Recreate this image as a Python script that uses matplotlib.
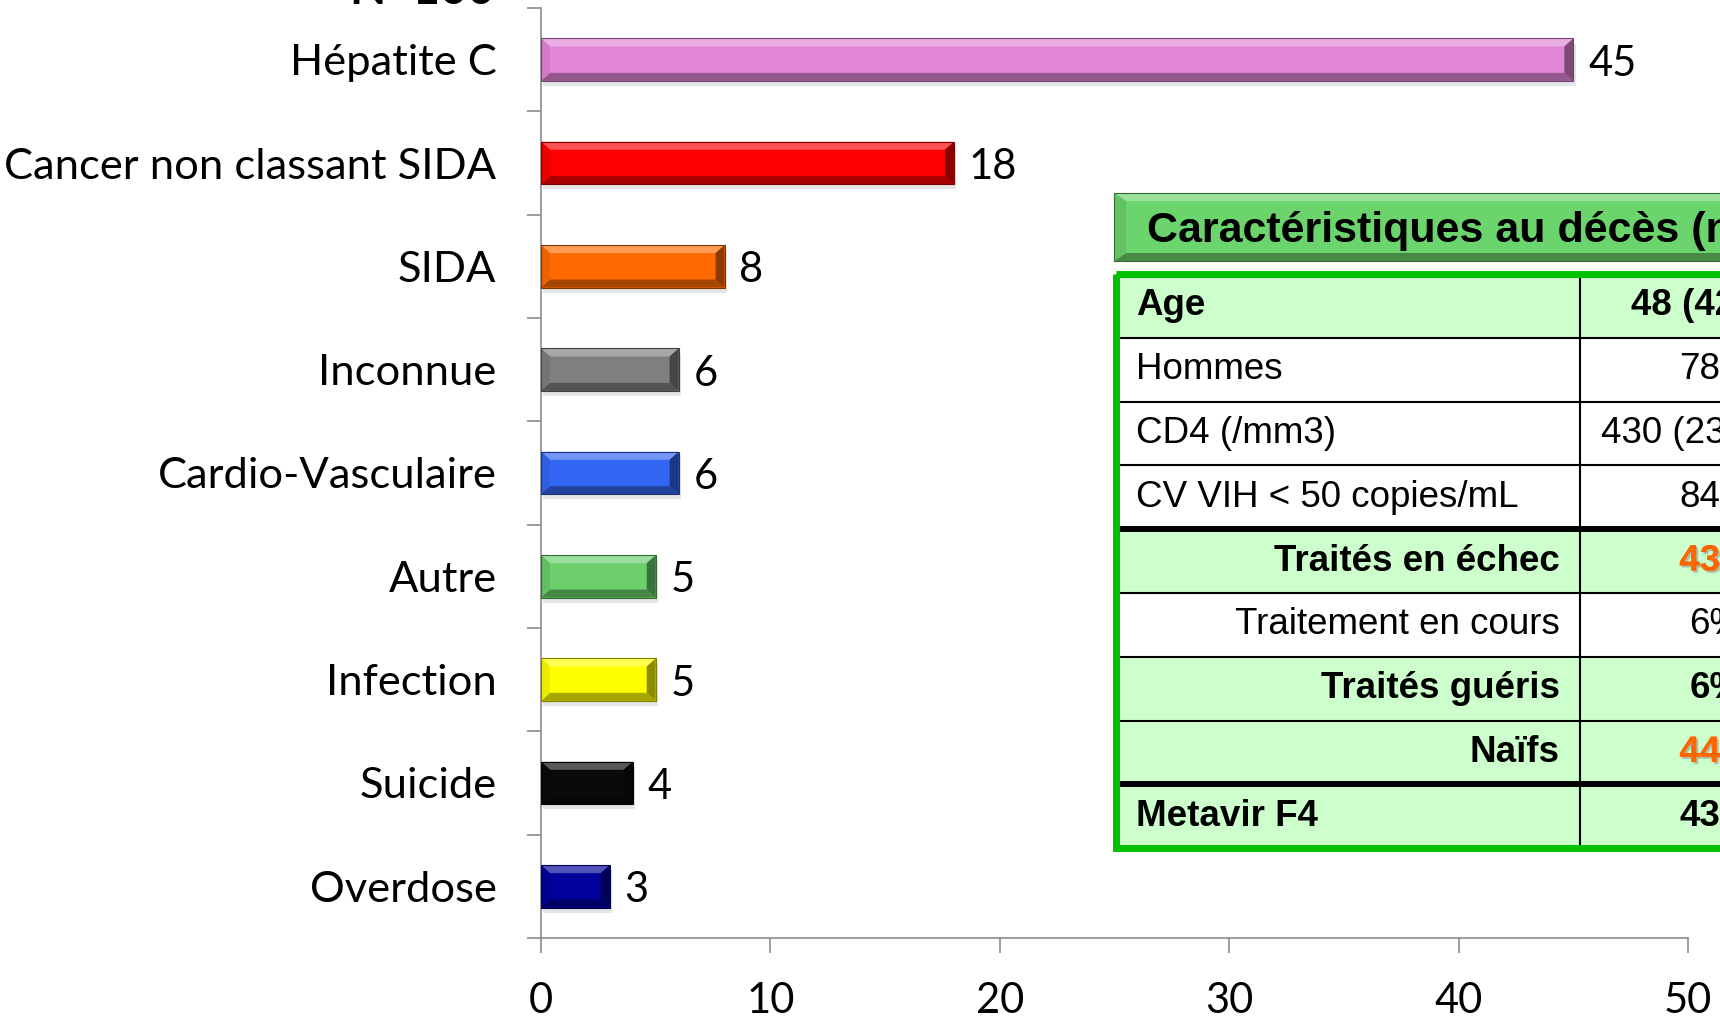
import numpy as np
import matplotlib
matplotlib.use('Agg')
import matplotlib.pyplot as plt
from matplotlib.patches import Rectangle, Polygon
from matplotlib import colors as mcolors
import matplotlib.patheffects as pe

# données du graphique
categories = ['Hépatite C', 'Cancer non classant SIDA', 'SIDA', 'Inconnue',
              'Cardio-Vasculaire', 'Autre', 'Infection', 'Suicide', 'Overdose']
deces = [45, 18, 8, 6, 6, 5, 5, 4, 3]
bar_colors = ['#E386D8', '#FF0000', '#FF6A00', '#7F7F7F', '#3366F2',
              '#6CCF6C', '#FFFF00', '#0A0A0A', '#00009A']
xticks = [0, 10, 20, 30, 40, 50]

# tableau "Caractéristiques au décès"
tab_titre = 'Caractéristiques au décès (n=100)'
tab_labels = ['Age', 'Hommes', 'CD4 (/mm3)', 'CV VIH < 50 copies/mL',
              'Traités en échec', 'Traitement en cours', 'Traités guéris',
              'Naïfs', 'Metavir F4']
tab_values = ['48 (42-54)', '78%', '430 (230-640)', '84%', '43%', '6%',
              '6%', '44%', '43%']
tab_bold = [True, False, False, False, True, False, True, True, True]
tab_fill = [True, False, False, False, True, False, True, True, True]
tab_right = [False, False, False, False, True, True, True, True, False]
tab_orange = [False, False, False, False, True, False, False, True, False]
tab_thick = [4, 8]   # lignes épaisses au-dessus de ces lignes

W, H = 1720, 1016
CAL = 'Lato'
ARIAL = 'Liberation Sans'
FS_TAB = 26.5


def mix(c, other, t):
    a = np.array(mcolors.to_rgb(c))
    b = np.array(mcolors.to_rgb(other))
    return tuple(a * (1 - t) + b * t)


def bevel(ax, x0, x1, yt, yb, color, bx, by, z=3):
    # yt = bord visuel haut, yb = bord visuel bas
    sy = 1 if yt > yb else -1
    ax.add_patch(Polygon([(x0, yb), (x1, yb), (x1, yt), (x0, yt)], closed=True,
                         fc=color, ec='none', zorder=z))
    ax.add_patch(Polygon([(x0, yt), (x1, yt), (x1 - bx, yt - sy * by), (x0 + bx, yt - sy * by)],
                         fc=mix(color, 'white', 0.32), ec='none', zorder=z + 0.1))
    ax.add_patch(Polygon([(x0, yb), (x1, yb), (x1 - bx, yb + sy * by), (x0 + bx, yb + sy * by)],
                         fc=mix(color, 'black', 0.35), ec='none', zorder=z + 0.1))
    ax.add_patch(Polygon([(x0, yb), (x0, yt), (x0 + bx, yt - sy * by), (x0 + bx, yb + sy * by)],
                         fc=mix(color, 'black', 0.08), ec='none', zorder=z + 0.1))
    ax.add_patch(Polygon([(x1, yb), (x1, yt), (x1 - bx, yt - sy * by), (x1 - bx, yb + sy * by)],
                         fc=mix(color, 'black', 0.45), ec='none', zorder=z + 0.1))
    ax.add_patch(Polygon([(x0, yb), (x1, yb), (x1, yt), (x0, yt)], closed=True,
                         fc='none', ec=mix(color, 'black', 0.5), lw=0.8, zorder=z + 0.2))


fig = plt.figure(figsize=(W / 100, H / 100), dpi=100)
ax = fig.add_axes([541 / W, 1 - 938 / H, (1688 - 541) / W, (938 - 8) / H])

n = len(categories)
ypos = np.arange(n)[::-1]
ax.set_xlim(0, 50)
ax.set_ylim(-0.5, n - 0.5)

px_x = (1688 - 541) / 50.0
px_y = (938 - 8) / float(n)
bh = 0.41
bx = 9 / px_x
by = 8 / px_y

for y, v, c in zip(ypos, deces, bar_colors):
    # ombre
    ax.add_patch(Rectangle((0.1, y - bh / 2 - 0.05), v, bh, fc='black', alpha=0.10,
                           ec='none', zorder=2))
    bevel(ax, 0, v, y + bh / 2, y - bh / 2, c, bx, by)
    ax.text(v + 0.65, y - 0.04, str(v), ha='left', va='center', fontsize=30,
            family=CAL, zorder=5)

ax.set_xticks(xticks)
ax.set_xticklabels([str(t) for t in xticks], family=CAL, fontsize=30)
ax.set_yticks(ypos)
ax.set_yticklabels(categories, family=CAL, fontsize=31.3)
ax.set_yticks(np.arange(-0.5, n, 1), minor=True)
ax.tick_params(axis='y', which='major', length=0, pad=32)
ax.tick_params(axis='y', which='minor', length=10, width=1.2, color='#8c8c8c')
ax.tick_params(axis='x', length=11, width=1.2, color='#8c8c8c', pad=21)
for s in ['top', 'right']:
    ax.spines[s].set_visible(False)
for s in ['left', 'bottom']:
    ax.spines[s].set_color('#8c8c8c')
    ax.spines[s].set_linewidth(1.2)

# calque en pixels pour le tableau
ov = fig.add_axes([0, 0, 1, 1], zorder=5)
ov.patch.set_alpha(0)
ov.axis('off')
ov.set_xlim(0, W)
ov.set_ylim(H, 0)

ov.text(422, 4, 'N=100', ha='center', va='baseline', fontsize=34,
        fontweight='bold', family=CAL)

# en-tête
bevel(ov, 1114, 1780, 193, 261, '#6CD46C', 12, 8, z=3)
ov.text(1147, 231, tab_titre, ha='left', va='center', fontsize=31,
        fontweight='bold', family=ARIAL, zorder=6)

tx0, tdiv, tx1 = 1116, 1580, 1780
ty0, rh = 274, 63.8
for i, lab in enumerate(tab_labels):
    yt = ty0 + i * rh
    ov.add_patch(Rectangle((tx0, yt), tx1 - tx0, rh,
                           fc='#CCFFCC' if tab_fill[i] else 'white', ec='none', zorder=3))
    w = 'bold' if tab_bold[i] else 'normal'
    if tab_right[i]:
        ov.text(1560, yt + rh / 2, lab, ha='right', va='center', fontsize=FS_TAB,
                fontweight=w, family=ARIAL, zorder=6)
    else:
        ov.text(1136, yt + rh / 2, lab, ha='left', va='center', fontsize=FS_TAB,
                fontweight=w, family=ARIAL, zorder=6)
    if tab_orange[i]:
        ov.text(1716, yt + rh / 2, tab_values[i], ha='center', va='center', fontsize=FS_TAB,
                fontweight='bold', family=ARIAL, color='#FF6600', zorder=6,
                path_effects=[pe.withSimplePatchShadow(offset=(1.5, -1.5),
                                                        shadow_rgbFace='#999999', alpha=0.6),
                              pe.Normal()])
    else:
        ov.text(1716, yt + rh / 2, tab_values[i], ha='center', va='center', fontsize=FS_TAB,
                fontweight=w, family=ARIAL, zorder=6)
    if i > 0:
        lw = 4.3 if i in tab_thick else 1.5
        ov.plot([tx0, tx1], [yt, yt], color='black', lw=lw, zorder=4,
                solid_capstyle='butt')

ov.plot([tdiv, tdiv], [ty0, ty0 + n * rh], color='black', lw=1.5, zorder=4)
ov.add_patch(Rectangle((tx0, ty0), tx1 - tx0, n * rh, fc='none', ec='#00C000',
                       lw=5, zorder=5))

fig.savefig('out.png', dpi=100)
